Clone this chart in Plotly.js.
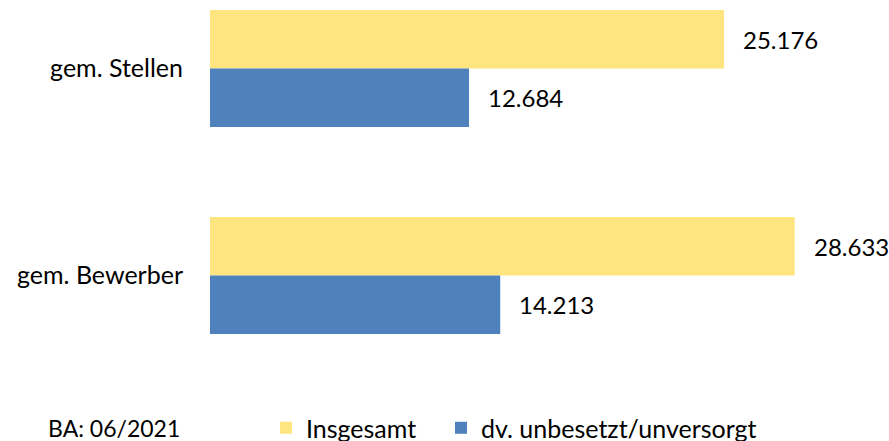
<!DOCTYPE html>
<html>
<head>
<meta charset="utf-8">
<script src="https://cdn.plot.ly/plotly-3.0.1.min.js"></script>
<style>html,body{margin:0;padding:0;background:#fff;}#chart{width:889px;height:441px;}</style>
</head>
<body>
<div id="chart"></div>
<script>
const categories = ["gem. Stellen", "gem. Bewerber"];
const seriesNames = ["Insgesamt", "dv. unbesetzt/unversorgt"];
const insgesamt = [25176, 28633];
const unbesetzt = [12684, 14213];
const sourceNote = "BA: 06/2021";

const colors = ["#FFE57F", "#4F81BD"];
const fontFam = "Lato, 'Open Sans', sans-serif";
const fs = 25;

function fmt(v) {
  return String(v).replace(/\B(?=(\d{3})+(?!\d))/g, ".");
}

const legendIds = ["legend", "legend2"];
const traces = [insgesamt, unbesetzt].map((vals, i) => ({
  type: "bar",
  orientation: "h",
  name: seriesNames[i],
  legend: legendIds[i],
  y: categories,
  x: vals,
  marker: { color: colors[i], line: { width: 0 } },
  hoverinfo: "none"
}));

const plotW = 679, plotH = 380;

const annotations = [];
[insgesamt, unbesetzt].forEach((vals, i) => {
  vals.forEach((v, j) => {
    annotations.push({
      x: v, y: categories[j], xref: "x", yref: "y",
      text: fmt(v), showarrow: false,
      xanchor: "left", yanchor: "middle",
      xshift: 17, yshift: i === 0 ? 29 : -29,
      font: { family: fontFam, size: 24, color: "#000" }
    });
  });
});
annotations.push({
  xref: "paper", yref: "paper",
  x: (46 - 210) / plotW, xanchor: "left",
  y: -(428 - plotH) / plotH, yanchor: "middle",
  text: sourceNote, showarrow: false,
  font: { family: fontFam, size: 23, color: "#000" }
});

function legendAt(px) {
  return {
    orientation: "h",
    xref: "paper", yref: "container",
    x: (px - 210) / plotW, xanchor: "left",
    y: (441 - 428) / 441, yanchor: "middle",
    font: { family: fontFam, size: fs, color: "#000" },
    itemclick: false, itemdoubleclick: false,
    bgcolor: "rgba(0,0,0,0)"
  };
}

const layout = {
  width: 889, height: 441,
  margin: { l: 210, r: 0, t: 0, b: 61, autoexpand: false },
  paper_bgcolor: "#fff", plot_bgcolor: "#fff",
  barmode: "group",
  bargap: 0.435, bargroupgap: 0,
  showlegend: true,
  legend: legendAt(266),
  legend2: legendAt(441),
  xaxis: {
    range: [0, plotW * 48.97],
    showgrid: false, zeroline: false, showline: false,
    showticklabels: false, ticks: "", fixedrange: true
  },
  yaxis: {
    type: "category",
    categoryorder: "array", categoryarray: categories,
    range: [-0.331 + plotH / 207, -0.331],
    showgrid: false, zeroline: false, showline: false,
    ticks: "", ticklabelstandoff: 26,
    tickfont: { family: fontFam, size: fs, color: "#000" },
    automargin: false, fixedrange: true
  },
  annotations: annotations,
  font: { family: fontFam, size: fs, color: "#000" }
};

Plotly.newPlot("chart", traces, layout, { displayModeBar: false, staticPlot: true });
</script>
</body>
</html>
